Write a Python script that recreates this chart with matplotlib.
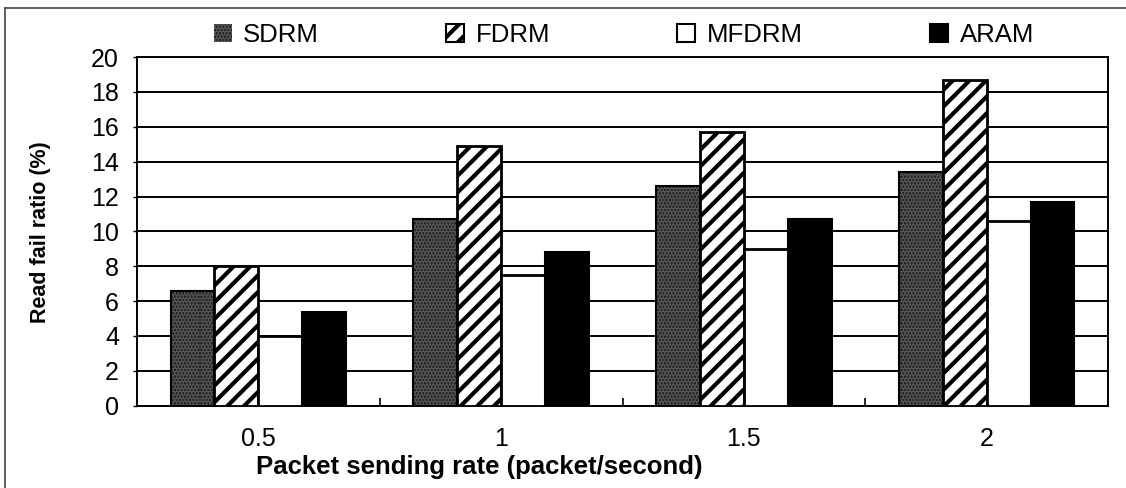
import numpy as np
import matplotlib
matplotlib.use("Agg")
import matplotlib.pyplot as plt
from matplotlib.patches import Patch
from matplotlib.lines import Line2D

plt.rcParams['font.family'] = ['Liberation Sans', 'DejaVu Sans']
plt.rcParams['hatch.linewidth'] = 3.0

# data
rates = ['0.5', '1', '1.5', '2']
sdrm = [6.6, 10.7, 12.6, 13.4]
fdrm = [8.0, 14.9, 15.7, 18.7]
mfdrm = [4.0, 7.5, 9.0, 10.6]
aram = [5.4, 8.8, 10.7, 11.7]
names = ['SDRM', 'FDRM', 'MFDRM', 'ARAM']

fig = plt.figure(figsize=(11.26, 4.88), dpi=100)
ax = fig.add_axes([0.1217, 0.1686, 0.8623, 0.7145])

x = np.arange(len(rates))
w = 0.181

# SDRM: dark speckled grey (hatch first, black outline on top)
ax.bar(x - 1.5 * w, sdrm, w, color='#1c1c1c', hatch='.....', edgecolor='#555555', linewidth=0, zorder=3)
ax.bar(x - 1.5 * w, sdrm, w, fill=False, edgecolor='black', linewidth=1.5, zorder=4)
# FDRM: white with thick diagonal stripes
ax.bar(x - 0.5 * w, fdrm, w, color='white', hatch='//', edgecolor='black', linewidth=2, zorder=3)
# MFDRM: plain white
ax.bar(x + 0.5 * w, mfdrm, w, color='white', edgecolor='black', linewidth=2, zorder=3)
# ARAM: solid black
ax.bar(x + 1.5 * w, aram, w, color='black', edgecolor='black', linewidth=1.5, zorder=3)

ax.set_xlim(-0.5, 3.5)
ax.set_ylim(0, 20)
ax.set_yticks(np.arange(0, 21, 2))
ax.yaxis.grid(True, color='black', linewidth=1.4, zorder=0)
ax.set_axisbelow(True)

ax.set_xticks(x)
ax.set_xticklabels(rates)
ax.set_xticks(np.arange(0.5, 3.5, 1), minor=True)
ax.tick_params(axis='x', which='major', length=0, pad=15, labelsize=18)
ax.tick_params(axis='x', which='minor', direction='in', length=6, width=1.2)
ax.tick_params(axis='y', direction='out', length=3, width=1, pad=10, labelsize=18)

for s in ax.spines.values():
    s.set_linewidth(1.4)
    s.set_color('black')

fig.text(0.426, 0.043, 'Packet sending rate (packet/second)', ha='center', va='center',
         fontsize=18.5, fontweight='bold')
fig.text(0.036, 0.525, 'Read fail ratio (%)', ha='center', va='center', rotation=90,
         fontsize=15.5, fontweight='bold')

handles = [
    Patch(facecolor='#1c1c1c', hatch='.....', edgecolor='#555555', linewidth=0),
    Patch(facecolor='white', hatch='//', edgecolor='black', linewidth=1.5),
    Patch(facecolor='white', edgecolor='black', linewidth=1.5),
    Patch(facecolor='black', edgecolor='black', linewidth=1.5),
]
fig.legend(handles, names, loc='center', bbox_to_anchor=(0.554, 0.928), ncol=4, frameon=False,
           fontsize=18.5, handlelength=0.7, handleheight=0.7, handletextpad=0.45,
           columnspacing=4.95)

# outer frame of the original figure (top and left edges only)
fig.add_artist(Line2D([0.0045, 1.0], [0.984, 0.984], color='#444444', linewidth=1.2))
fig.add_artist(Line2D([0.0045, 0.0045], [0.0, 0.984], color='#444444', linewidth=1.2))

fig.savefig('out.png', dpi=100)
